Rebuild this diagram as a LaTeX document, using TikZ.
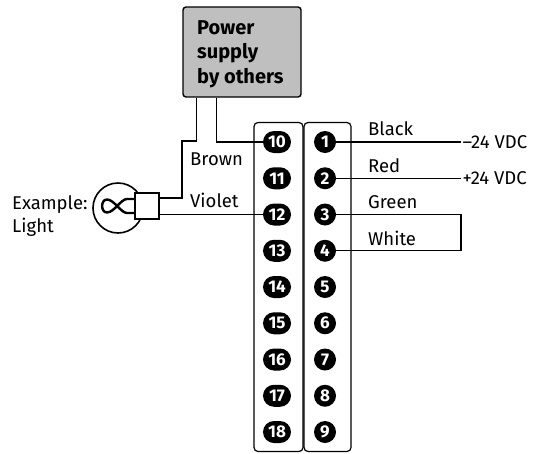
\documentclass[tikz,border=0pt]{standalone}
\usepackage{fontspec}
\setmainfont{Fira Sans}
\definecolor{psgray}{RGB}{191,191,191}
\begin{document}
\begin{tikzpicture}[x=1pt,y=-1pt,
  wire/.style={line width=1.3pt},
  lbl/.style={font=\fontsize{18.5}{23}\selectfont, inner sep=0pt, anchor=base west},
  badge/.style={circle, fill=black, text=white, minimum size=22pt, inner sep=0pt, font=\fontsize{17}{17}\selectfont\bfseries},
  badgew/.style={rectangle, rounded corners=11pt, fill=black, text=white, minimum width=28pt, minimum height=22pt, inner sep=0pt, font=\fontsize{17}{17}\selectfont\bfseries},
  blk/.style={draw, line width=1.2pt, rounded corners=4pt, minimum height=329pt, inner sep=0pt},
  psbox/.style={draw, fill=psgray, line width=1.4pt, rounded corners=3pt, minimum width=118pt, minimum height=90pt, inner sep=0pt},
  pstxt/.style={align=left, inner sep=0pt, anchor=base west, font=\fontsize{20}{24.5}\selectfont\bfseries}
]
\useasboundingbox (0,0) rectangle (546,453);

% power supply
\node[psbox] (ps) at (242,52) {};
\node[pstxt] (pslabel) at (197,83) {Power\\supply\\by others};

% terminal blocks
\node[blk, minimum width=49pt] (blkL) at (278.5,287) {};
\node[blk, minimum width=47pt] (blkR) at (327.5,287) {};

% badges
\foreach \i in {0,...,8}{
  \pgfmathtruncatemacro\n{\i+1}
  \pgfmathtruncatemacro\m{\i+10}
  \node[badge] (b\n) at (325,{142+36.25*\i}) {\n};
  \node[badgew] (b\m) at (277,{142+36.25*\i}) {\m};
}

% lamp
\node[circle, draw, line width=1.6pt, minimum size=50pt, inner sep=0pt] (lamp) at (118,208) {};
\draw[line width=2.4pt] (135,199) -- (127,199) .. controls (121,199) and (114,212.5) .. (107,212.5) .. controls (100.5,212.5) and (100.5,199.5) .. (107,199.5) .. controls (114,199.5) and (121,213) .. (127,213) -- (135,213);
\node[draw, fill=white, line width=1.4pt, minimum width=24pt, minimum height=26pt, inner sep=0pt] (sock) at (147,206) {};

% left wires
\draw[wire] ([xshift=14pt]ps.south west) |- (182,141) |- ([yshift=8pt]sock.east);
\draw[wire] ([xshift=34pt]ps.south west) |- (b10.west);
\draw[wire] (b12.west) -- (b12.west -| sock.east);

% right side
\node[lbl, anchor=west, inner sep=1.5pt] (vneg) at (461,142) {–24 VDC};
\node[lbl, anchor=west, inner sep=1.5pt] (vpos) at (461,178.25) {+24 VDC};
\draw[wire] (b1.east) -- (vneg.west);
\draw[wire] (b2.east) -- (vpos.west);
\draw[wire] (b3.east) -- (b3.east -| vneg.west) |- (b4.east);

% labels
\node[lbl] (lblack) at (368,135) {Black};
\node[lbl] (lred) at (368,172) {Red};
\node[lbl] (lgreen) at (368,208) {Green};
\node[lbl] (lwhite) at (368,245) {White};
\node[lbl] (lbrown) at (190,165) {Brown};
\node[lbl] (lviolet) at (190,207) {Violet};
\node[lbl, align=left] (lex) at (12,232) {Example:\\Light};
\end{tikzpicture}
\end{document}
